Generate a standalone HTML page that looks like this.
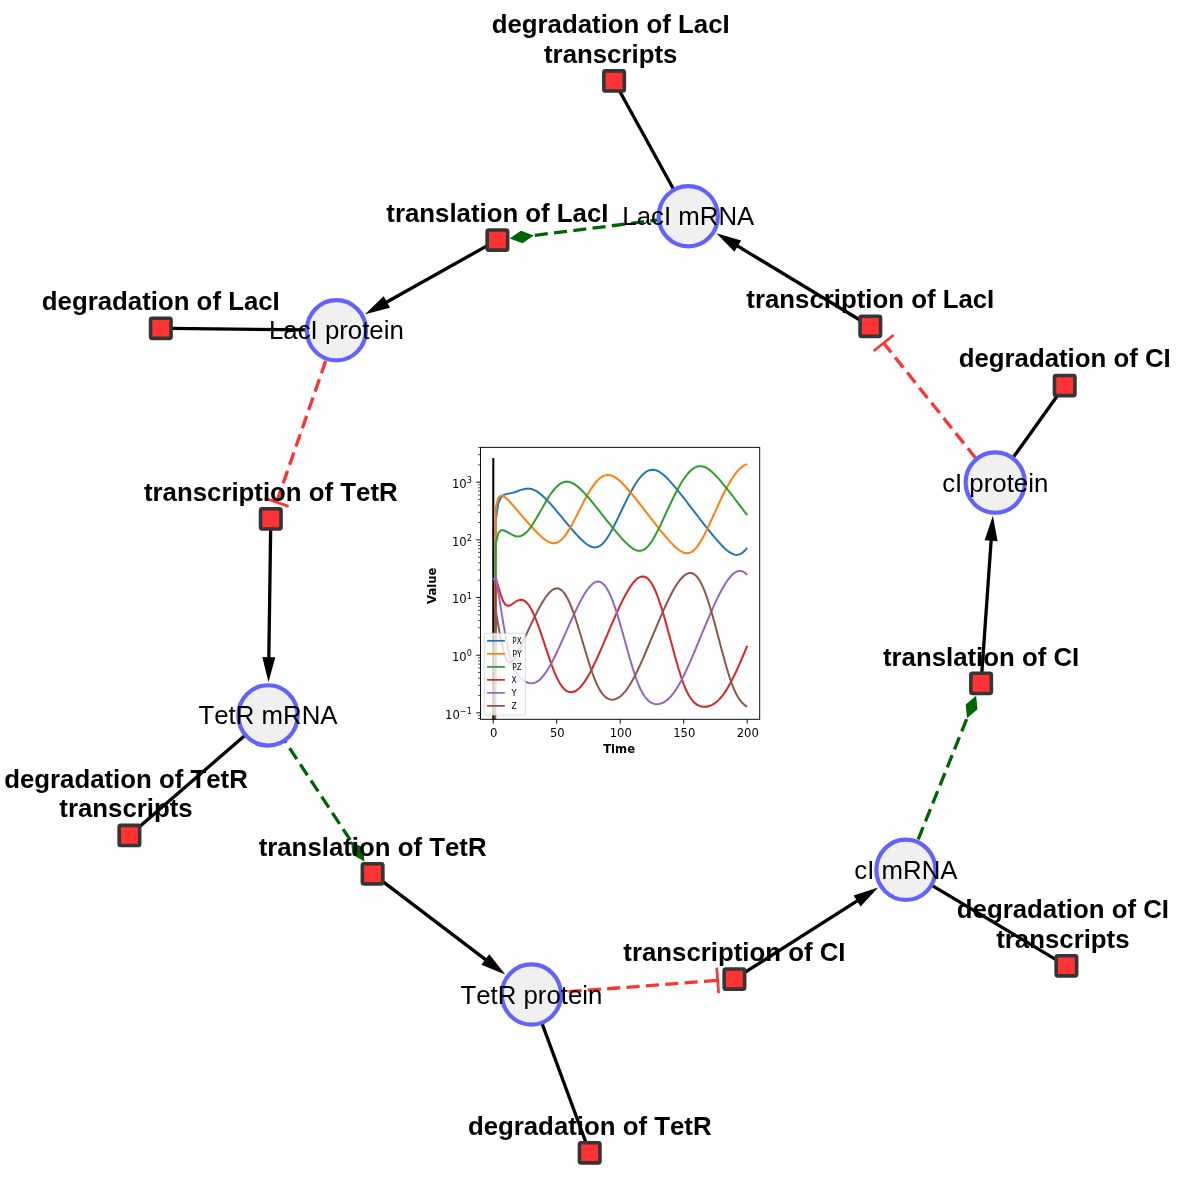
<!DOCTYPE html>
<html lang="en"><head><meta charset="utf-8"><title>Repressilator network</title>
<style>html,body{margin:0;padding:0;background:#fff}svg{display:block}.rl{font-family:"Liberation Sans",Arial,sans-serif;font-weight:bold;font-size:25.8px;fill:#000;text-anchor:middle;font-kerning:none}.sl{font-family:"Liberation Sans",Arial,sans-serif;font-size:25.8px;fill:#000;text-anchor:middle;font-kerning:none}.tk{font-family:"DejaVu Sans",sans-serif;font-size:11.6px;fill:#000}.ax{font-family:"DejaVu Sans",sans-serif;font-size:11.6px;font-weight:bold;fill:#000;text-anchor:middle}.lg{font-family:"DejaVu Sans",sans-serif;font-size:9px;fill:#000}</style></head><body>
<svg width="1189" height="1200" viewBox="0 0 1189 1200">
<rect width="1189" height="1200" fill="#ffffff"/>
<g id="edges">
<path d="M673.81,189.80 L619.59,91.00" stroke="#000" stroke-width="3.3" fill="none"/>
<path d="M688.30,216.20 L533.81,235.46" stroke="#006400" stroke-width="3.3" stroke-dasharray="13.1 6.3" stroke-dashoffset="13.60" fill="none"/>
<path d="M509.70,238.47 L520.97,230.66 L533.81,235.46 L522.54,243.26 Z" fill="#006400"/>
<path d="M487.40,245.61 L385.09,302.99" stroke="#000" stroke-width="3.3" fill="none"/>
<path d="M365.03,314.24 L383.66,296.34 L390.02,307.68 Z" fill="#000"/>
<path d="M306.70,329.96 L170.80,328.41" stroke="#000" stroke-width="3.3" fill="none"/>
<path d="M336.40,330.30 L276.61,502.20" stroke="#ff3333" stroke-width="3.3" stroke-dasharray="13.1 6.3" stroke-dashoffset="6.40" fill="none"/>
<path d="M264.57,498.01 L288.65,506.39" stroke="#ff3333" stroke-width="2.7" fill="none"/>
<path d="M270.66,528.90 L268.80,659.16" stroke="#000" stroke-width="3.3" fill="none"/>
<path d="M268.47,682.15 L262.33,657.06 L275.33,657.25 Z" fill="#000"/>
<path d="M245.38,735.00 L139.40,826.83" stroke="#000" stroke-width="3.3" fill="none"/>
<path d="M268.00,715.40 L351.09,841.22" stroke="#006400" stroke-width="3.3" stroke-dasharray="13.1 6.3" stroke-dashoffset="19.00" fill="none"/>
<path d="M364.48,861.50 L352.48,854.86 L351.09,841.22 L363.08,847.86 Z" fill="#006400"/>
<path d="M382.60,881.40 L486.90,960.67" stroke="#000" stroke-width="3.3" fill="none"/>
<path d="M505.21,974.59 L481.37,964.64 L489.24,954.29 Z" fill="#000"/>
<path d="M541.83,1022.82 L586.02,1142.80" stroke="#000" stroke-width="3.3" fill="none"/>
<path d="M531.40,994.50 L717.70,980.37" stroke="#ff3333" stroke-width="3.3" stroke-dasharray="13.1 6.3" stroke-dashoffset="1.60" fill="none"/>
<path d="M718.66,993.08 L716.74,967.65" stroke="#ff3333" stroke-width="2.7" fill="none"/>
<path d="M744.40,972.73 L858.80,899.82" stroke="#000" stroke-width="3.3" fill="none"/>
<path d="M878.19,887.46 L860.60,906.38 L853.62,895.41 Z" fill="#000"/>
<path d="M931.51,885.12 L1056.40,959.82" stroke="#000" stroke-width="3.3" fill="none"/>
<path d="M905.90,869.80 L967.05,718.24" stroke="#006400" stroke-width="3.3" stroke-dasharray="13.1 6.3" stroke-dashoffset="5.90" fill="none"/>
<path d="M976.14,695.70 L977.48,709.34 L967.05,718.24 L965.70,704.59 Z" fill="#006400"/>
<path d="M981.80,673.40 L991.26,538.71" stroke="#000" stroke-width="3.3" fill="none"/>
<path d="M992.87,515.77 L997.60,541.16 L984.64,540.25 Z" fill="#000"/>
<path d="M1012.70,458.16 L1057.54,395.50" stroke="#000" stroke-width="3.3" fill="none"/>
<path d="M995.20,482.60 L883.65,343.00" stroke="#ff3333" stroke-width="3.3" stroke-dasharray="13.1 6.3" stroke-dashoffset="8.00" fill="none"/>
<path d="M893.61,335.04 L873.68,350.96" stroke="#ff3333" stroke-width="2.7" fill="none"/>
<path d="M860.30,320.25 L736.08,245.11" stroke="#000" stroke-width="3.3" fill="none"/>
<path d="M716.40,233.20 L741.16,240.58 L734.43,251.70 Z" fill="#000"/>
</g>
<g id="nodes">
<ellipse cx="688.3" cy="216.2" rx="29.60" ry="30.15" fill="#f0f0f0" stroke="#6262ff" stroke-width="4.2"/>
<ellipse cx="336.4" cy="330.3" rx="29.60" ry="30.15" fill="#f0f0f0" stroke="#6262ff" stroke-width="4.2"/>
<ellipse cx="268.0" cy="715.4" rx="29.60" ry="30.15" fill="#f0f0f0" stroke="#6262ff" stroke-width="4.2"/>
<ellipse cx="531.4" cy="994.5" rx="29.60" ry="30.15" fill="#f0f0f0" stroke="#6262ff" stroke-width="4.2"/>
<ellipse cx="905.9" cy="869.8" rx="29.60" ry="30.15" fill="#f0f0f0" stroke="#6262ff" stroke-width="4.2"/>
<ellipse cx="995.2" cy="482.6" rx="29.60" ry="30.15" fill="#f0f0f0" stroke="#6262ff" stroke-width="4.2"/>
<rect x="603.85" y="70.92" width="20.50" height="20.15" rx="1.6" fill="#ff3333" stroke="#353535" stroke-width="3.6"/>
<rect x="487.15" y="229.93" width="20.50" height="20.15" rx="1.6" fill="#ff3333" stroke="#353535" stroke-width="3.6"/>
<rect x="150.55" y="318.23" width="20.50" height="20.15" rx="1.6" fill="#ff3333" stroke="#353535" stroke-width="3.6"/>
<rect x="260.55" y="508.82" width="20.50" height="20.15" rx="1.6" fill="#ff3333" stroke="#353535" stroke-width="3.6"/>
<rect x="119.15" y="825.42" width="20.50" height="20.15" rx="1.6" fill="#ff3333" stroke="#353535" stroke-width="3.6"/>
<rect x="362.35" y="863.72" width="20.50" height="20.15" rx="1.6" fill="#ff3333" stroke="#353535" stroke-width="3.6"/>
<rect x="579.45" y="1142.72" width="20.50" height="20.15" rx="1.6" fill="#ff3333" stroke="#353535" stroke-width="3.6"/>
<rect x="724.15" y="969.02" width="20.50" height="20.15" rx="1.6" fill="#ff3333" stroke="#353535" stroke-width="3.6"/>
<rect x="1056.15" y="955.72" width="20.50" height="20.15" rx="1.6" fill="#ff3333" stroke="#353535" stroke-width="3.6"/>
<rect x="970.85" y="673.32" width="20.50" height="20.15" rx="1.6" fill="#ff3333" stroke="#353535" stroke-width="3.6"/>
<rect x="1054.45" y="375.43" width="20.50" height="20.15" rx="1.6" fill="#ff3333" stroke="#353535" stroke-width="3.6"/>
<rect x="860.05" y="316.23" width="20.50" height="20.15" rx="1.6" fill="#ff3333" stroke="#353535" stroke-width="3.6"/>
</g>
<g id="labels">
<text class="sl" x="688.3" y="225">LacI mRNA</text>
<text class="sl" x="336.4" y="339">LacI protein</text>
<text class="sl" x="268.0" y="724">TetR mRNA</text>
<text class="sl" x="531.4" y="1004">TetR protein</text>
<text class="sl" x="905.9" y="879">cI mRNA</text>
<text class="sl" x="995.2" y="492">cI protein</text>
<text class="rl" x="610.7" y="32.8">degradation of LacI</text>
<text class="rl" x="610.7" y="63.0">transcripts</text>
<text class="rl" x="497.4" y="221.7">translation of LacI</text>
<text class="rl" x="160.8" y="310.0">degradation of LacI</text>
<text class="rl" x="270.8" y="500.6">transcription of TetR</text>
<text class="rl" x="126.0" y="787.9">degradation of TetR</text>
<text class="rl" x="126.0" y="816.6">transcripts</text>
<text class="rl" x="372.6" y="855.5">translation of TetR</text>
<text class="rl" x="589.7" y="1134.5">degradation of TetR</text>
<text class="rl" x="734.4" y="960.8">transcription of CI</text>
<text class="rl" x="1062.9" y="917.7">degradation of CI</text>
<text class="rl" x="1062.9" y="947.8">transcripts</text>
<text class="rl" x="981.1" y="665.9">translation of CI</text>
<text class="rl" x="1064.7" y="367.1">degradation of CI</text>
<text class="rl" x="870.3" y="307.9">transcription of LacI</text>
</g>
<g id="chart">
<clipPath id="axclip"><rect x="480.55" y="447.35" width="279.15" height="271.95"/></clipPath>
<g clip-path="url(#axclip)" fill="none" stroke-linejoin="round" stroke-linecap="butt">
<path d="M493.3,458.1 L493.3,721.3" stroke="#000" stroke-width="2.1"/>
<path d="M493.20,1119.30 L495.74,520.29 L498.28,503.40 L500.82,497.52 L503.36,495.14 L505.90,494.13 L508.44,493.61 L510.98,493.14 L513.52,492.52 L516.06,491.73 L518.60,490.81 L521.14,489.90 L523.68,489.15 L526.22,488.69 L528.76,488.62 L531.30,489.01 L533.84,489.86 L536.38,491.14 L538.92,492.83 L541.46,494.85 L544.00,497.15 L546.54,499.67 L549.08,502.37 L551.62,505.19 L554.16,508.12 L556.70,511.11 L559.24,514.15 L561.78,517.21 L564.32,520.27 L566.86,523.33 L569.40,526.36 L571.94,529.34 L574.48,532.25 L577.02,535.07 L579.56,537.76 L582.10,540.27 L584.64,542.54 L587.18,544.49 L589.72,546.03 L592.26,547.06 L594.80,547.44 L597.34,547.10 L599.88,545.93 L602.42,543.93 L604.96,541.12 L607.50,537.58 L610.04,533.43 L612.58,528.79 L615.12,523.81 L617.66,518.61 L620.20,513.30 L622.74,507.97 L625.28,502.73 L627.82,497.63 L630.36,492.77 L632.90,488.21 L635.44,484.02 L637.98,480.26 L640.52,477.00 L643.06,474.30 L645.60,472.19 L648.14,470.71 L650.68,469.90 L653.22,469.73 L655.76,470.19 L658.30,471.22 L660.84,472.76 L663.38,474.71 L665.92,477.01 L668.46,479.58 L671.00,482.37 L673.54,485.31 L676.08,488.37 L678.62,491.51 L681.16,494.72 L683.70,497.97 L686.24,501.25 L688.78,504.55 L691.32,507.85 L693.86,511.16 L696.40,514.46 L698.94,517.74 L701.48,521.01 L704.02,524.26 L706.56,527.48 L709.10,530.66 L711.64,533.79 L714.18,536.86 L716.72,539.84 L719.26,542.71 L721.80,545.43 L724.34,547.97 L726.88,550.24 L729.42,552.18 L731.96,553.67 L734.50,554.62 L737.04,554.89 L739.58,554.39 L742.12,553.05 L744.66,550.84 L747.20,547.79" stroke="#1f77b4" stroke-width="2.0"/>
<path d="M493.20,1119.30 L495.74,507.93 L498.28,497.79 L500.82,495.61 L503.36,496.18 L505.90,497.97 L508.44,500.39 L510.98,503.11 L513.52,505.98 L516.06,508.93 L518.60,511.90 L521.14,514.88 L523.68,517.84 L526.22,520.77 L528.76,523.67 L531.30,526.51 L533.84,529.28 L536.38,531.95 L538.92,534.48 L541.46,536.83 L544.00,538.93 L546.54,540.71 L549.08,542.08 L551.62,542.93 L554.16,543.17 L556.70,542.69 L559.24,541.44 L561.78,539.41 L564.32,536.61 L566.86,533.14 L569.40,529.11 L571.94,524.65 L574.48,519.88 L577.02,514.92 L579.56,509.90 L582.10,504.92 L584.64,500.06 L587.18,495.42 L589.72,491.08 L592.26,487.11 L594.80,483.61 L597.34,480.63 L599.88,478.23 L602.42,476.47 L604.96,475.37 L607.50,474.94 L610.04,475.15 L612.58,475.96 L615.12,477.30 L617.66,479.08 L620.20,481.24 L622.74,483.70 L625.28,486.39 L627.82,489.25 L630.36,492.24 L632.90,495.33 L635.44,498.49 L637.98,501.70 L640.52,504.94 L643.06,508.20 L645.60,511.47 L648.14,514.73 L650.68,517.99 L653.22,521.24 L655.76,524.46 L658.30,527.65 L660.84,530.79 L663.38,533.89 L665.92,536.90 L668.46,539.83 L671.00,542.62 L673.54,545.25 L676.08,547.65 L678.62,549.75 L681.16,551.46 L683.70,552.67 L686.24,553.26 L688.78,553.12 L691.32,552.16 L693.86,550.34 L696.40,547.67 L698.94,544.21 L701.48,540.08 L704.02,535.41 L706.56,530.34 L709.10,524.99 L711.64,519.47 L714.18,513.87 L716.72,508.29 L719.26,502.79 L721.80,497.43 L724.34,492.29 L726.88,487.42 L729.42,482.87 L731.96,478.70 L734.50,474.96 L737.04,471.69 L739.58,468.94 L742.12,466.75 L744.66,465.15 L747.20,464.17" stroke="#ff7f0e" stroke-width="2.0"/>
<path d="M493.20,1119.30 L495.74,544.06 L498.28,533.10 L500.82,530.30 L503.36,530.22 L505.90,531.26 L508.44,532.72 L510.98,534.20 L513.52,535.45 L516.06,536.25 L518.60,536.45 L521.14,535.94 L523.68,534.65 L526.22,532.59 L528.76,529.81 L531.30,526.41 L533.84,522.54 L536.38,518.32 L538.92,513.89 L541.46,509.38 L544.00,504.91 L546.54,500.58 L549.08,496.51 L551.62,492.77 L554.16,489.46 L556.70,486.66 L559.24,484.44 L561.78,482.85 L564.32,481.91 L566.86,481.61 L569.40,481.95 L571.94,482.85 L574.48,484.25 L577.02,486.08 L579.56,488.26 L582.10,490.72 L584.64,493.39 L587.18,496.23 L589.72,499.19 L592.26,502.25 L594.80,505.36 L597.34,508.52 L599.88,511.70 L602.42,514.90 L604.96,518.10 L607.50,521.28 L610.04,524.45 L612.58,527.58 L615.12,530.67 L617.66,533.69 L620.20,536.63 L622.74,539.45 L625.28,542.11 L627.82,544.58 L630.36,546.76 L632.90,548.59 L635.44,549.94 L637.98,550.72 L640.52,550.80 L643.06,550.09 L645.60,548.53 L648.14,546.11 L650.68,542.89 L653.22,538.97 L655.76,534.49 L658.30,529.57 L660.84,524.34 L663.38,518.93 L665.92,513.44 L668.46,507.95 L671.00,502.54 L673.54,497.28 L676.08,492.25 L678.62,487.49 L681.16,483.08 L683.70,479.08 L686.24,475.53 L688.78,472.48 L691.32,469.99 L693.86,468.09 L696.40,466.82 L698.94,466.18 L701.48,466.18 L704.02,466.78 L706.56,467.94 L709.10,469.58 L711.64,471.62 L714.18,473.99 L716.72,476.62 L719.26,479.45 L721.80,482.44 L724.34,485.53 L726.88,488.71 L729.42,491.94 L731.96,495.21 L734.50,498.51 L737.04,501.83 L739.58,505.15 L742.12,508.47 L744.66,511.79 L747.20,515.11" stroke="#2ca02c" stroke-width="2.0"/>
<path d="M493.20,1119.30 L495.74,578.68 L498.28,586.47 L500.82,595.08 L503.36,601.55 L505.90,605.07 L508.44,605.90 L510.98,604.96 L513.52,603.22 L516.06,601.45 L518.60,600.17 L521.14,599.72 L523.68,600.33 L526.22,602.11 L528.76,605.10 L531.30,609.25 L533.84,614.47 L536.38,620.58 L538.92,627.41 L541.46,634.75 L544.00,642.39 L546.54,650.11 L549.08,657.69 L551.62,664.90 L554.16,671.53 L556.70,677.39 L559.24,682.33 L561.78,686.28 L564.32,689.20 L566.86,691.13 L569.40,692.12 L571.94,692.23 L574.48,691.53 L577.02,690.07 L579.56,687.89 L582.10,685.06 L584.64,681.61 L587.18,677.62 L589.72,673.14 L592.26,668.26 L594.80,663.04 L597.34,657.56 L599.88,651.87 L602.42,646.05 L604.96,640.13 L607.50,634.17 L610.04,628.21 L612.58,622.30 L615.12,616.48 L617.66,610.81 L620.20,605.33 L622.74,600.10 L625.28,595.19 L627.82,590.66 L630.36,586.60 L632.90,583.09 L635.44,580.22 L637.98,578.08 L640.52,576.78 L643.06,576.41 L645.60,577.09 L648.14,578.91 L650.68,581.94 L653.22,586.21 L655.76,591.68 L658.30,598.25 L660.84,605.76 L663.38,614.04 L665.92,622.90 L668.46,632.15 L671.00,641.59 L673.54,651.02 L676.08,660.22 L678.62,668.95 L681.16,677.00 L683.70,684.15 L686.24,690.26 L688.78,695.27 L691.32,699.19 L693.86,702.14 L696.40,704.25 L698.94,705.65 L701.48,706.47 L704.02,706.79 L706.56,706.65 L709.10,706.09 L711.64,705.10 L714.18,703.66 L716.72,701.76 L719.26,699.37 L721.80,696.48 L724.34,693.09 L726.88,689.20 L729.42,684.85 L731.96,680.09 L734.50,674.97 L737.04,669.55 L739.58,663.88 L742.12,658.02 L744.66,652.02 L747.20,645.92" stroke="#d62728" stroke-width="2.0"/>
<path d="M493.20,580.18 L495.74,576.02 L498.28,591.99 L500.82,608.08 L503.36,623.60 L505.90,637.92 L508.44,650.34 L510.98,660.23 L513.52,667.45 L516.06,672.48 L518.60,676.00 L521.14,678.60 L523.68,680.59 L526.22,682.06 L528.76,683.01 L531.30,683.37 L533.84,683.07 L536.38,682.09 L538.92,680.40 L541.46,678.03 L544.00,675.01 L546.54,671.40 L549.08,667.26 L551.62,662.69 L554.16,657.75 L556.70,652.52 L559.24,647.07 L561.78,641.48 L564.32,635.79 L566.86,630.07 L569.40,624.37 L571.94,618.73 L574.48,613.23 L577.02,607.91 L579.56,602.85 L582.10,598.10 L584.64,593.77 L587.18,589.92 L589.72,586.67 L592.26,584.13 L594.80,582.39 L597.34,581.57 L599.88,581.79 L602.42,583.15 L604.96,585.73 L607.50,589.54 L610.04,594.56 L612.58,600.69 L615.12,607.79 L617.66,615.68 L620.20,624.19 L622.74,633.10 L625.28,642.23 L627.82,651.35 L630.36,660.25 L632.90,668.70 L635.44,676.48 L637.98,683.38 L640.52,689.26 L643.06,694.05 L645.60,697.79 L648.14,700.55 L650.68,702.45 L653.22,703.63 L655.76,704.17 L658.30,704.14 L660.84,703.59 L663.38,702.54 L665.92,700.96 L668.46,698.87 L671.00,696.25 L673.54,693.10 L676.08,689.44 L678.62,685.29 L681.16,680.71 L683.70,675.73 L686.24,670.43 L688.78,664.86 L691.32,659.08 L693.86,653.14 L696.40,647.10 L698.94,640.99 L701.48,634.85 L704.02,628.73 L706.56,622.66 L709.10,616.68 L711.64,610.83 L714.18,605.15 L716.72,599.70 L719.26,594.52 L721.80,589.68 L724.34,585.24 L726.88,581.26 L729.42,577.81 L731.96,574.97 L734.50,572.80 L737.04,571.38 L739.58,570.80 L742.12,571.15 L744.66,572.55 L747.20,575.08" stroke="#9467bd" stroke-width="2.0"/>
<path d="M493.20,1119.30 L495.74,610.90 L498.28,625.34 L500.82,639.10 L503.36,650.68 L505.90,658.73 L508.44,662.51 L510.98,662.48 L513.52,659.84 L516.06,655.70 L518.60,650.81 L521.14,645.54 L523.68,640.10 L526.22,634.61 L528.76,629.14 L531.30,623.73 L533.84,618.44 L536.38,613.32 L538.92,608.44 L541.46,603.88 L544.00,599.70 L546.54,596.01 L549.08,592.91 L551.62,590.52 L554.16,588.96 L556.70,588.34 L559.24,588.78 L561.78,590.37 L564.32,593.16 L566.86,597.15 L569.40,602.28 L571.94,608.44 L574.48,615.47 L577.02,623.19 L579.56,631.42 L582.10,639.95 L584.64,648.57 L587.18,657.05 L589.72,665.19 L592.26,672.74 L594.80,679.51 L597.34,685.33 L599.88,690.12 L602.42,693.86 L604.96,696.59 L607.50,698.41 L610.04,699.40 L612.58,699.65 L615.12,699.22 L617.66,698.15 L620.20,696.47 L622.74,694.19 L625.28,691.32 L627.82,687.90 L630.36,683.95 L632.90,679.54 L635.44,674.70 L637.98,669.52 L640.52,664.05 L643.06,658.36 L645.60,652.49 L648.14,646.51 L650.68,640.46 L653.22,634.38 L655.76,628.31 L658.30,622.29 L660.84,616.37 L663.38,610.58 L665.92,604.98 L668.46,599.61 L671.00,594.54 L673.54,589.82 L676.08,585.53 L678.62,581.73 L681.16,578.51 L683.70,575.94 L686.24,574.11 L688.78,573.11 L691.32,573.03 L693.86,573.98 L696.40,576.06 L698.94,579.34 L701.48,583.85 L704.02,589.54 L706.56,596.32 L709.10,604.03 L711.64,612.50 L714.18,621.55 L716.72,630.97 L719.26,640.59 L721.80,650.19 L724.34,659.57 L726.88,668.50 L729.42,676.75 L731.96,684.10 L734.50,690.41 L737.04,695.59 L739.58,699.68 L742.12,702.78 L744.66,705.03 L747.20,706.58" stroke="#8c564b" stroke-width="2.0"/>
</g>
<rect x="484.3" y="633.3" width="41.1" height="81.8" rx="1.7" fill="#ffffff" fill-opacity="0.8" stroke="#cccccc" stroke-opacity="0.8" stroke-width="0.9"/>
<path d="M487.05,640.8 L504.9,640.8" stroke="#1f77b4" stroke-width="1.75"/>
<text class="lg" x="512.3" y="644.10" textLength="9.4" lengthAdjust="spacingAndGlyphs">PX</text>
<path d="M487.05,653.85 L504.9,653.85" stroke="#ff7f0e" stroke-width="1.75"/>
<text class="lg" x="512.3" y="657.15" textLength="9.4" lengthAdjust="spacingAndGlyphs">PY</text>
<path d="M487.05,666.9 L504.9,666.9" stroke="#2ca02c" stroke-width="1.75"/>
<text class="lg" x="512.3" y="670.20" textLength="9.4" lengthAdjust="spacingAndGlyphs">PZ</text>
<path d="M487.05,679.85 L504.9,679.85" stroke="#d62728" stroke-width="1.75"/>
<text class="lg" x="511.4" y="683.15" textLength="5.2" lengthAdjust="spacingAndGlyphs">X</text>
<path d="M487.05,692.85 L504.9,692.85" stroke="#9467bd" stroke-width="1.75"/>
<text class="lg" x="511.4" y="696.15" textLength="5.2" lengthAdjust="spacingAndGlyphs">Y</text>
<path d="M487.05,705.9 L504.9,705.9" stroke="#8c564b" stroke-width="1.75"/>
<text class="lg" x="511.4" y="709.20" textLength="5.2" lengthAdjust="spacingAndGlyphs">Z</text>
<rect x="480.55" y="447.35" width="279.15" height="271.95" fill="none" stroke="#000" stroke-width="0.95"/>
<path d="M493.20,719.3 L493.20,723.5999999999999" stroke="#000" stroke-width="0.95"/>
<text class="tk" text-anchor="middle" x="493.80" y="737.3">0</text>
<path d="M556.70,719.3 L556.70,723.5999999999999" stroke="#000" stroke-width="0.95"/>
<text class="tk" text-anchor="middle" x="557.30" y="737.3">50</text>
<path d="M620.20,719.3 L620.20,723.5999999999999" stroke="#000" stroke-width="0.95"/>
<text class="tk" text-anchor="middle" x="620.80" y="737.3">100</text>
<path d="M683.70,719.3 L683.70,723.5999999999999" stroke="#000" stroke-width="0.95"/>
<text class="tk" text-anchor="middle" x="684.30" y="737.3">150</text>
<path d="M747.20,719.3 L747.20,723.5999999999999" stroke="#000" stroke-width="0.95"/>
<text class="tk" text-anchor="middle" x="747.80" y="737.3">200</text>
<path d="M480.55,712.88 L476.25,712.88" stroke="#000" stroke-width="0.95"/>
<text class="tk" text-anchor="end" x="471.8" y="718.68">10<tspan font-size="8.1px" dy="-4.6">−1</tspan></text>
<path d="M480.55,655.21 L476.25,655.21" stroke="#000" stroke-width="0.95"/>
<text class="tk" text-anchor="end" x="471.8" y="661.01">10<tspan font-size="8.1px" dy="-4.6">0</tspan></text>
<path d="M480.55,597.54 L476.25,597.54" stroke="#000" stroke-width="0.95"/>
<text class="tk" text-anchor="end" x="471.8" y="603.34">10<tspan font-size="8.1px" dy="-4.6">1</tspan></text>
<path d="M480.55,539.87 L476.25,539.87" stroke="#000" stroke-width="0.95"/>
<text class="tk" text-anchor="end" x="471.8" y="545.67">10<tspan font-size="8.1px" dy="-4.6">2</tspan></text>
<path d="M480.55,482.20 L476.25,482.20" stroke="#000" stroke-width="0.95"/>
<text class="tk" text-anchor="end" x="471.8" y="488.00">10<tspan font-size="8.1px" dy="-4.6">3</tspan></text>
<path d="M480.55,718.47 L478.05,718.47" stroke="#000" stroke-width="0.7"/>
<path d="M480.55,715.52 L478.05,715.52" stroke="#000" stroke-width="0.7"/>
<path d="M480.55,695.52 L478.05,695.52" stroke="#000" stroke-width="0.7"/>
<path d="M480.55,685.36 L478.05,685.36" stroke="#000" stroke-width="0.7"/>
<path d="M480.55,678.16 L478.05,678.16" stroke="#000" stroke-width="0.7"/>
<path d="M480.55,672.57 L478.05,672.57" stroke="#000" stroke-width="0.7"/>
<path d="M480.55,668.00 L478.05,668.00" stroke="#000" stroke-width="0.7"/>
<path d="M480.55,664.14 L478.05,664.14" stroke="#000" stroke-width="0.7"/>
<path d="M480.55,660.80 L478.05,660.80" stroke="#000" stroke-width="0.7"/>
<path d="M480.55,657.85 L478.05,657.85" stroke="#000" stroke-width="0.7"/>
<path d="M480.55,637.85 L478.05,637.85" stroke="#000" stroke-width="0.7"/>
<path d="M480.55,627.69 L478.05,627.69" stroke="#000" stroke-width="0.7"/>
<path d="M480.55,620.49 L478.05,620.49" stroke="#000" stroke-width="0.7"/>
<path d="M480.55,614.90 L478.05,614.90" stroke="#000" stroke-width="0.7"/>
<path d="M480.55,610.33 L478.05,610.33" stroke="#000" stroke-width="0.7"/>
<path d="M480.55,606.47 L478.05,606.47" stroke="#000" stroke-width="0.7"/>
<path d="M480.55,603.13 L478.05,603.13" stroke="#000" stroke-width="0.7"/>
<path d="M480.55,600.18 L478.05,600.18" stroke="#000" stroke-width="0.7"/>
<path d="M480.55,580.18 L478.05,580.18" stroke="#000" stroke-width="0.7"/>
<path d="M480.55,570.02 L478.05,570.02" stroke="#000" stroke-width="0.7"/>
<path d="M480.55,562.82 L478.05,562.82" stroke="#000" stroke-width="0.7"/>
<path d="M480.55,557.23 L478.05,557.23" stroke="#000" stroke-width="0.7"/>
<path d="M480.55,552.66 L478.05,552.66" stroke="#000" stroke-width="0.7"/>
<path d="M480.55,548.80 L478.05,548.80" stroke="#000" stroke-width="0.7"/>
<path d="M480.55,545.46 L478.05,545.46" stroke="#000" stroke-width="0.7"/>
<path d="M480.55,542.51 L478.05,542.51" stroke="#000" stroke-width="0.7"/>
<path d="M480.55,522.51 L478.05,522.51" stroke="#000" stroke-width="0.7"/>
<path d="M480.55,512.35 L478.05,512.35" stroke="#000" stroke-width="0.7"/>
<path d="M480.55,505.15 L478.05,505.15" stroke="#000" stroke-width="0.7"/>
<path d="M480.55,499.56 L478.05,499.56" stroke="#000" stroke-width="0.7"/>
<path d="M480.55,494.99 L478.05,494.99" stroke="#000" stroke-width="0.7"/>
<path d="M480.55,491.13 L478.05,491.13" stroke="#000" stroke-width="0.7"/>
<path d="M480.55,487.79 L478.05,487.79" stroke="#000" stroke-width="0.7"/>
<path d="M480.55,484.84 L478.05,484.84" stroke="#000" stroke-width="0.7"/>
<path d="M480.55,464.84 L478.05,464.84" stroke="#000" stroke-width="0.7"/>
<path d="M480.55,454.68 L478.05,454.68" stroke="#000" stroke-width="0.7"/>
<path d="M480.55,447.48 L478.05,447.48" stroke="#000" stroke-width="0.7"/>
<text class="ax" x="619.1" y="752.6">Time</text>
<text class="ax" transform="translate(436.0,585.8) rotate(-90)">Value</text>
</g>
</svg></body></html>
